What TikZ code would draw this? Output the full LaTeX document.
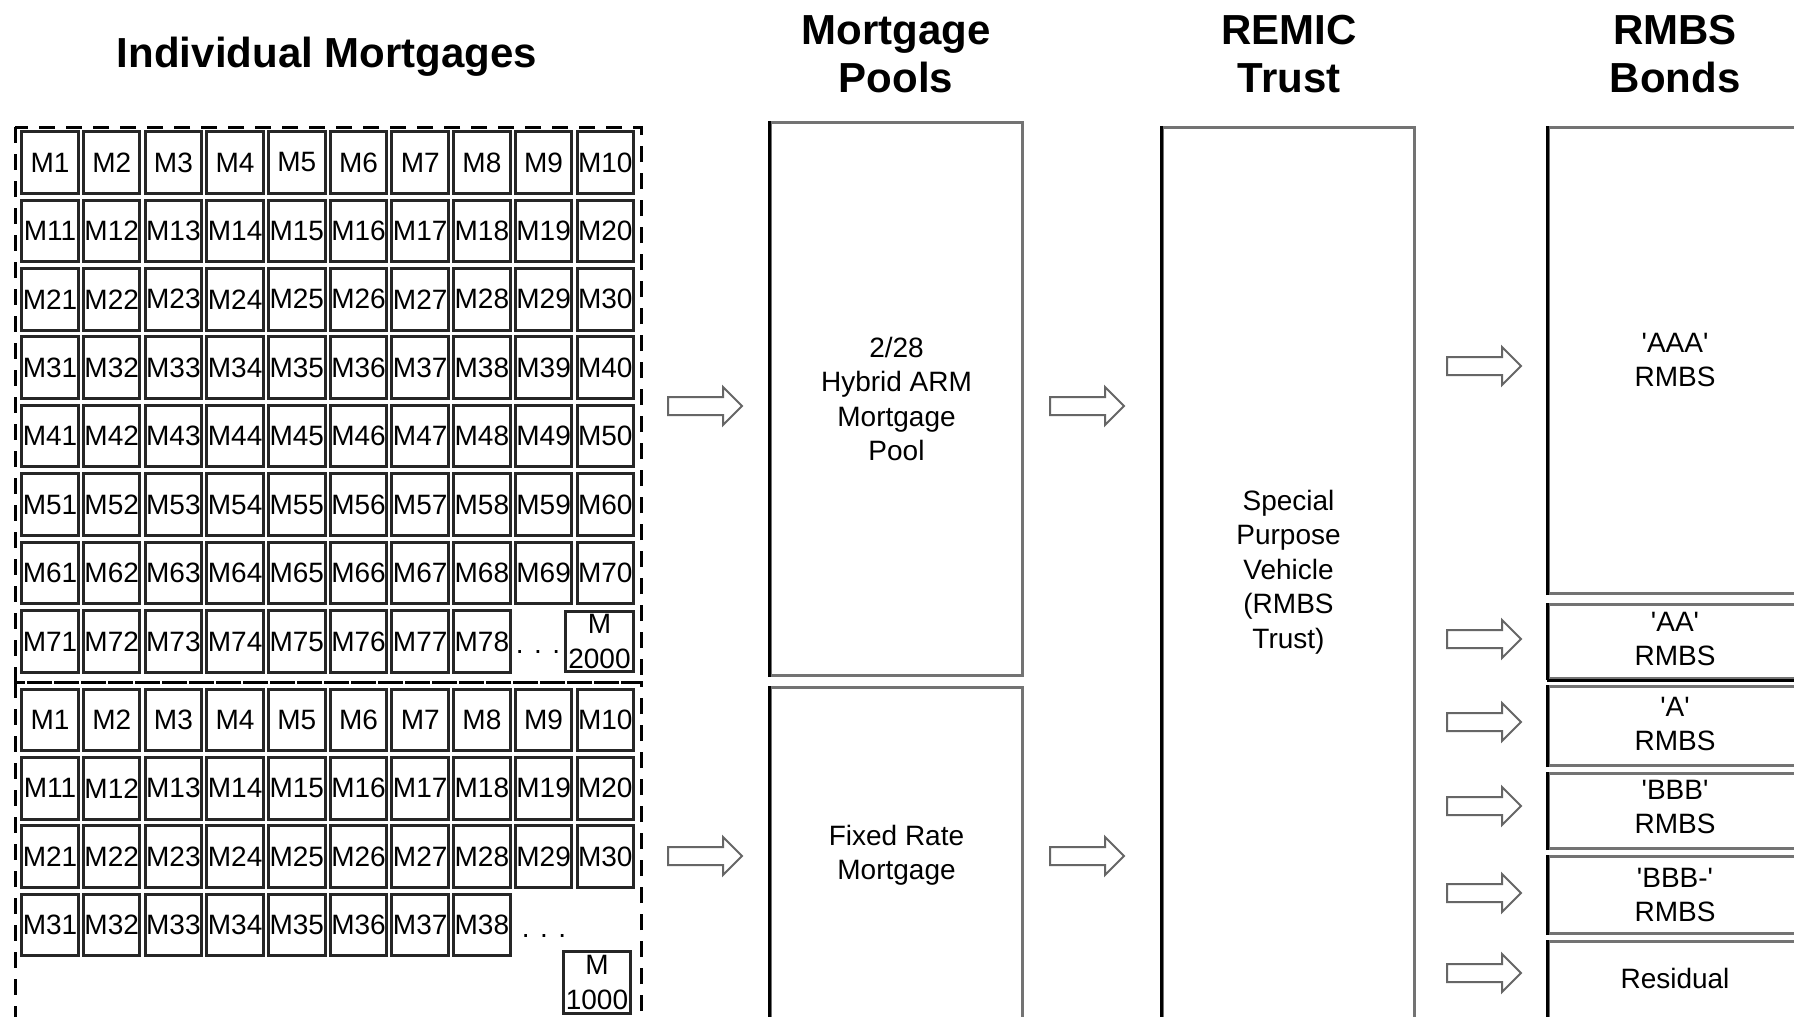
\documentclass[tikz,border=0pt]{standalone}
\usepackage{fontspec}
\setmainfont{Liberation Sans}
\newcommand\myq{\textquotesingle}
\tikzset{
  cell/.style={draw=black!85, line width=3pt, fill=white, minimum width=56.5pt, minimum height=61.5pt, inner sep=0pt, font=\fontsize{28}{35}\selectfont, align=center},
  hdr/.style={font=\fontsize{42}{48}\selectfont\bfseries, align=center, inner sep=0pt},
  body/.style={font=\fontsize{28}{34.5}\selectfont, align=center, inner sep=0pt},
  bigbox/.style={draw=black!55, line width=3pt, inner sep=0pt},
  blackedge/.style={draw=black, line width=3pt},
  dashbox/.style={draw=black, line width=3pt, dash pattern=on 16pt off 11pt},
  arrline/.style={draw=black!60, line width=2pt, fill=white, line join=miter},
  blockarr/.pic={\draw[arrline] (0,-9) -- (55,-9) -- (55,-19) -- (74,0) -- (55,19) -- (55,9) -- (0,9) -- cycle;}
}
\begin{document}
\begin{tikzpicture}[x=1pt,y=-1pt]
\useasboundingbox (0,0) rectangle (1794,1017);
\clip (0,0) rectangle (1794,1017);
\fill[white] (0,0) rectangle (1794,1017);

% headers
\node[hdr, anchor=north] (tIM) at (327,37) {Individual Mortgages};
\node[hdr, anchor=north] (tMP) at (896,15) {Mortgage\\Pools};
\node[hdr, anchor=north] (tRT) at (1289,15) {REMIC\\Trust};
\node[hdr, anchor=north] (tRB) at (1675,15) {RMBS\\Bonds};

% dashed groups
\draw[dashbox] (15,127) rectangle (641,682);
\draw[dashbox] (15,682) rectangle (641,1060);

% upper block of mortgages
\foreach \r in {1,...,7}{
  \foreach \c in {1,...,10}{
    \pgfmathtruncatemacro\n{(\r-1)*10+\c}
    \node[cell] (u\n) at ({50+61.7*(\c-1)},{162.5+68.4*(\r-1)}) {M\n};
  }
}
\foreach \c in {1,...,8}{
  \pgfmathtruncatemacro\n{70+\c}
  \node[cell] (u\n) at ({50+61.7*(\c-1)},641.5) {M\n};
}
\node[body, anchor=base] (udots) at (538,653) {. . .};
\node[cell, minimum width=68pt, minimum height=60pt] (u2000) at (599.5,641.5) {M\\2000};

% lower block of mortgages
\foreach \r in {1,...,3}{
  \foreach \c in {1,...,10}{
    \pgfmathtruncatemacro\n{(\r-1)*10+\c}
    \node[cell] (l\n) at ({50+61.7*(\c-1)},{720+68.3*(\r-1)}) {M\n};
  }
}
\foreach \c in {1,...,8}{
  \pgfmathtruncatemacro\n{30+\c}
  \node[cell] (l\n) at ({50+61.7*(\c-1)},925) {M\n};
}
\node[body, anchor=base] (ldots) at (544,937) {. . .};
\node[cell, minimum width=66.5pt, minimum height=61.5pt] (l1000) at (597,982.5) {M\\1000};

% mortgage pools
\node[bigbox, minimum width=252pt, minimum height=553pt] (pool1) at (896.5,399) {};
\node[bigbox, minimum width=252pt, minimum height=371pt] (pool2) at (896.5,873) {};
\draw[blackedge] (pool1.south west) -- (pool1.north west);
\draw[blackedge] (pool2.south west) -- (pool2.north west);
\node[body, anchor=north] (armtxt) at (896.5,337) {2/28\\Hybrid ARM\\Mortgage\\Pool};
\node[body, anchor=north] (fixtxt) at (896.5,825) {Fixed Rate\\Mortgage};

% REMIC trust
\node[bigbox, minimum width=252pt, minimum height=931pt] (remic) at (1288.5,593) {};
\draw[blackedge] (remic.south west) -- (remic.north west);
\node[body, anchor=north] (spvtxt) at (1288.5,490) {Special\\Purpose\\Vehicle\\(RMBS\\Trust)};

% RMBS bonds
\node[bigbox, minimum width=260pt, minimum height=466pt] (baaa) at (1678.5,360.5) {};
\node[bigbox, minimum width=260pt, minimum height=74pt] (baa) at (1678.5,641.5) {};
\node[bigbox, minimum width=260pt, minimum height=79pt] (ba) at (1678.5,726) {};
\node[bigbox, minimum width=260pt, minimum height=75pt] (bbbb) at (1678.5,811) {};
\node[bigbox, minimum width=260pt, minimum height=77pt] (bbbbm) at (1678.5,895) {};
\node[bigbox, minimum width=260pt, minimum height=117pt] (bres) at (1678.5,1000) {};
\foreach \b in {baaa,baa,ba,bbbb,bbbbm,bres}{
  \draw[blackedge] (\b.south west) -- (\b.north west);
}
\draw[blackedge] (baa.south west) -- (baa.south east);
\node[body, anchor=north] (taaa) at (1675,333) {\myq AAA\myq\\RMBS};
\node[body, anchor=north] (taa) at (1675,612) {\myq AA\myq\\RMBS};
\node[body, anchor=north] (ta) at (1675,697) {\myq A\myq\\RMBS};
\node[body, anchor=north] (tbbb) at (1675,780) {\myq BBB\myq\\RMBS};
\node[body, anchor=north] (tbbbm) at (1675,868) {\myq BBB-\myq\\RMBS};
\node[body, anchor=north] (tres) at (1675,968) {Residual};

% block arrows
\pic (a1) at (668,406) {blockarr};
\pic (a2) at (668,856) {blockarr};
\pic (b1) at (1050,406) {blockarr};
\pic (b2) at (1050,856) {blockarr};
\foreach \y [count=\i] in {366,639,722,806,893,973}{
  \pic (c\i) at (1447,\y) {blockarr};
}
\end{tikzpicture}
\end{document}
